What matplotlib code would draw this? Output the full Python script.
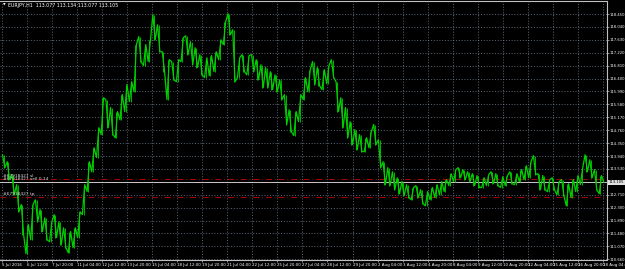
import matplotlib
matplotlib.use('Agg')
import matplotlib.pyplot as plt
from matplotlib.transforms import blended_transform_factory

# --- Data (EURJPY, H1) ---
# swing high / low per group of 6 hourly bars
BARS_PER_COL = 6
col_high = [113.98, 113.76, 113.35, 113.03, 112.40, 111.76, 112.40, 112.55, 112.24, 111.98,
            111.85, 112.08, 111.85, 111.66, 111.54, 111.66, 112.17, 113.03, 113.76, 114.20,
            114.84, 115.79, 115.73, 115.48, 115.35, 115.89, 116.21, 116.30, 117.48, 117.73,
            117.48, 117.63, 118.43, 118.11, 117.25, 117.00, 116.94, 117.00, 117.70, 117.76,
            117.57, 117.38, 117.16, 117.06, 117.13, 117.25, 117.63, 118.21, 118.46, 117.95,
            117.06, 117.16, 117.13, 117.16, 117.00, 116.84, 116.75, 116.62, 116.52, 116.36,
            115.89, 115.41, 115.35, 115.89, 116.43, 116.68, 116.94, 116.75, 116.68, 116.81,
            117.00, 116.30, 115.79, 115.48, 115.03, 114.78, 114.62, 114.52, 114.71, 114.94,
            114.46, 113.76, 113.57, 113.44, 113.25, 113.13, 113.03, 112.94, 113.00, 112.87,
            112.81, 112.94, 113.03, 113.13, 113.19, 113.38, 113.51, 113.57, 113.51, 113.44,
            113.38, 113.32, 113.25, 113.35, 113.44, 113.38, 113.28, 113.32, 113.44, 113.38,
            113.51, 113.63, 113.76, 113.95, 113.38, 113.32, 113.19, 113.25, 113.13, 113.19,
            113.06, 113.19, 113.32, 113.57, 113.98, 113.82, 113.51, 113.32]
col_low = [113.57, 113.19, 112.71, 112.17, 111.44, 110.84, 111.28, 111.85, 111.54, 111.28,
           111.22, 111.35, 111.12, 111.03, 110.87, 111.03, 111.35, 112.08, 112.81, 113.44,
           113.89, 114.62, 114.84, 114.62, 114.52, 115.09, 115.35, 115.67, 115.98, 116.94,
           116.81, 116.94, 117.63, 117.25, 116.62, 115.73, 116.36, 116.30, 116.94, 117.16,
           116.84, 116.75, 116.52, 116.43, 116.49, 116.62, 117.00, 117.48, 117.79, 116.30,
           116.43, 116.62, 116.52, 116.62, 116.36, 116.11, 116.11, 116.05, 115.98, 115.73,
           114.94, 114.71, 114.59, 115.03, 115.73, 115.98, 116.21, 116.17, 116.05, 116.24,
           116.43, 115.35, 114.84, 114.52, 114.30, 114.14, 114.08, 114.08, 114.20, 114.30,
           113.57, 113.03, 113.00, 112.87, 112.74, 112.68, 112.62, 112.55, 112.62, 112.43,
           112.36, 112.55, 112.62, 112.71, 112.81, 113.00, 113.13, 113.25, 113.19, 113.13,
           113.00, 112.94, 112.94, 113.00, 113.06, 113.00, 112.94, 113.00, 113.06, 113.03,
           113.13, 113.19, 113.25, 113.35, 112.87, 112.87, 112.81, 112.87, 112.71, 112.68,
           112.36, 112.62, 112.81, 113.03, 113.44, 113.25, 112.87, 112.74]
last_bar = 769
last_close = 113.105

price_ticks = [118.450, 118.040, 117.630, 117.220, 116.810, 116.400, 115.990, 115.580,
               115.170, 114.760, 114.350, 113.940, 113.530, 113.120, 112.710, 112.300,
               111.890, 111.480, 111.070, 110.660]

LABEL_EVERY = 32
time_labels = ['5 Jul 2016', '6 Jul 12:00', '7 Jul 20:00', '11 Jul 04:00', '12 Jul 12:00',
               '13 Jul 20:00', '15 Jul 04:00', '18 Jul 12:00', '19 Jul 20:00', '21 Jul 04:00',
               '22 Jul 12:00', '25 Jul 20:00', '27 Jul 04:00', '28 Jul 12:00', '29 Jul 20:00',
               '2 Aug 04:00', '3 Aug 12:00', '4 Aug 20:00', '8 Aug 04:00', '9 Aug 12:00',
               '10 Aug 20:00', '12 Aug 04:00', '15 Aug 12:00', '16 Aug 20:00', '18 Aug 04:00']

ticket = '#67918427'
sl_price = 113.225
open_price = 113.120
tp_price = 112.645
header = 'EURJPY,H1  113.077 113.134 113.077 113.105'

SMALL = ['Liberation Sans Narrow', 'DejaVu Sans']

# --- Build the zig-zag path through the swing points ---
xs, ys = [], []
n = len(col_high)
for i in range(n):
    b = i * BARS_PER_COL
    mid = (col_high[i] + col_low[i]) / 2
    nxt = (col_high[i + 1] + col_low[i + 1]) / 2 if i + 1 < n else last_close
    if nxt > mid:
        pair = (col_low[i], col_high[i])
    else:
        pair = (col_high[i], col_low[i])
    xs += [b + 1, b + 4]
    ys += list(pair)
xs.append(last_bar)
ys.append(last_close)

# --- Figure ---
fig = plt.figure(figsize=(6.25, 2.69), dpi=100, facecolor='black')
ax = fig.add_axes([0, 9 / 269, 607 / 625, 259 / 269], facecolor='black')
ax.set_xlim(-2.2, 773)
ax.set_ylim(110.638, 118.863)

grid_kw = dict(color='#778899', linestyle=(0, (1.5, 2.5)), linewidth=0.5, zorder=1)
for p in price_ticks:
    ax.axhline(p, **grid_kw)
for k in range(len(time_labels)):
    ax.axvline(k * LABEL_EVERY, **grid_kw)

# high-low bars and the path through them
ax.vlines([i * BARS_PER_COL + 2.5 for i in range(n)], col_low, col_high,
          color='#00b800', linewidth=0.7, zorder=3)
ax.plot(xs, ys, color='#00d000', linewidth=0.9, zorder=3)

# order lines
ax.axhline(sl_price, color='#b00000', linewidth=0.7, linestyle=(0, (6, 3, 1, 3)), zorder=2)
ax.axhline(tp_price, color='#b00000', linewidth=0.7, linestyle=(0, (6, 3, 1, 3)), zorder=2)
ax.axhline(open_price, color='#c8c8c8', linewidth=0.7, zorder=2)
lab_kw = dict(fontsize=3.2, family=SMALL, color='#d8d8d8', va='bottom', ha='left', zorder=4)
ax.text(2, sl_price + 0.02, ticket + ' sl', **lab_kw)
ax.text(2, open_price + 0.02, ticket + ' sell 0.14', **lab_kw)
ax.text(2, tp_price + 0.02, ticket + ' tp', **lab_kw)

# axes styling
ax.spines['left'].set_visible(False)
for side in ['right', 'top', 'bottom']:
    ax.spines[side].set_color('#c0c0c0')
    ax.spines[side].set_linewidth(0.8)

ax.yaxis.tick_right()
ax.set_yticks(price_ticks)
ax.set_yticklabels([f'{p:.3f}' for p in price_ticks])
ax.set_xticks([k * LABEL_EVERY for k in range(len(time_labels))])
ax.set_xticklabels(time_labels)
for t in ax.get_xticklabels() + ax.get_yticklabels():
    t.set_family(SMALL)
plt.setp(ax.get_xticklabels(), ha='left')
ax.tick_params(axis='both', colors='#c0c0c0', labelcolor='white',
               length=1.5, width=0.5, pad=0.8)
ax.tick_params(axis='x', labelsize=2.9)
ax.tick_params(axis='y', labelsize=2.7, pad=0.6)

# current price box on the price scale
trans = blended_transform_factory(ax.transAxes, ax.transData)
ax.text(1.003, last_close, f'{last_close:.3f}', transform=trans, fontsize=2.7,
        family=SMALL, color='black', va='center', ha='left', zorder=6, clip_on=False,
        bbox=dict(facecolor='#e0e0e0', edgecolor='none', pad=0.5))

# header
fig.text(3 / 625, 1 - 5 / 269, '\u25bc', fontsize=2.5, color='white', va='center')
fig.text(8 / 625, 1 - 5 / 269, header, fontsize=3.4, family=SMALL, color='white',
         va='center')

fig.savefig('out.png', dpi=100, facecolor='black')
